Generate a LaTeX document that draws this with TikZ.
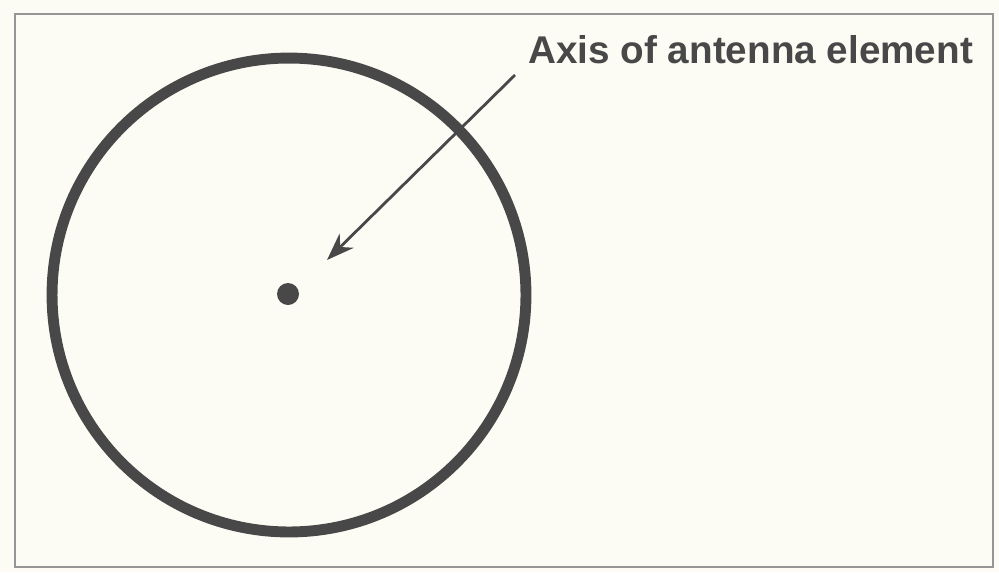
\documentclass[tikz,border=0pt]{standalone}
\usepackage{fontspec}
\setmainfont{Liberation Sans}
\usepackage{xcolor}
\usetikzlibrary{arrows.meta, positioning}
\definecolor{paper}{RGB}{253,252,244}
\definecolor{ink}{RGB}{72,72,72}
\definecolor{frame}{RGB}{150,150,150}
\tikzset{
  ring/.style={draw=ink, line width=6.2pt, circle, minimum size=9.48cm, inner sep=0pt},
  axisdot/.style={fill=ink, circle, minimum size=0.44cm, inner sep=0pt},
  pointer/.style={-{Stealth[length=5.5mm, width=4mm]}, draw=ink, line width=1.6pt},
  caption/.style={text=ink, font=\bfseries\fontsize{22}{26}\selectfont, inner sep=0pt, anchor=base west}
}
\begin{document}
\begin{tikzpicture}[x=0.02cm, y=-0.02cm]
  % background and frame
  \fill[paper] (0,0) rectangle (999,572);
  \useasboundingbox (0,0) rectangle (999,572);
  \draw[frame, line width=1.2pt] (15,14) rectangle (993,567);

  % element cross-section
  \node[ring] (elem) at (289,295) {};
  \node[axisdot] (dot) at (288,294) {};

  % label and pointer
  \node[caption] (lbl) at (528,63) {Axis of antenna element};
  \coordinate (tail) at (515,75);
  \coordinate (tip) at (327,260);
  \draw[pointer] (tail) -- (tip);
\end{tikzpicture}
\end{document}
